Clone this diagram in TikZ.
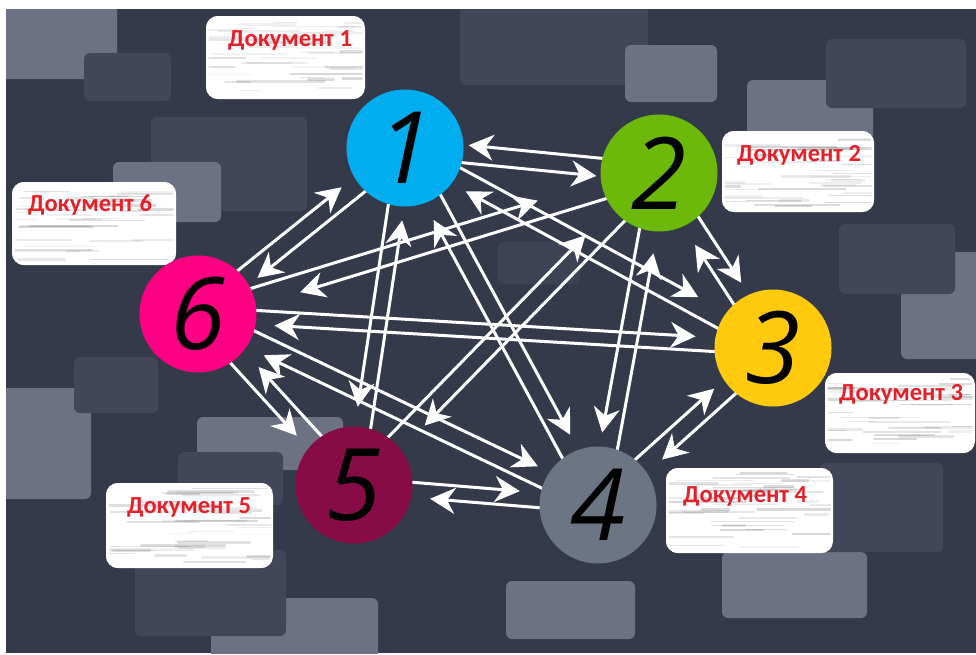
\documentclass[tikz,border=0pt]{standalone}
\usepackage{fontspec}
\newfontfamily\docfont{Carlito}
\newfontfamily\digfont{Open Sans}
\usetikzlibrary{calc,arrows.meta}
\definecolor{bgc}{HTML}{353A4B}
\definecolor{lightc}{HTML}{6C7183}
\definecolor{darkc}{HTML}{414658}
\definecolor{faintc}{HTML}{3D4254}
\definecolor{docred}{HTML}{E5202A}
\definecolor{c1}{HTML}{00AEEF}
\definecolor{c2}{HTML}{6CB909}
\definecolor{c3}{HTML}{FFC90E}
\definecolor{c4}{HTML}{6C7583}
\definecolor{c5}{HTML}{870B45}
\definecolor{c6}{HTML}{FF0083}
\pgfdeclarelayer{bglayer}
\pgfdeclarelayer{arrlayer}
\pgfsetlayers{bglayer,arrlayer,main}
\tikzset{
  arr/.style={draw=white, line width=3pt, -{Stealth[length=25pt,width=26pt,inset=8pt]}},
  num/.style={circle, minimum size=117pt, inner sep=0pt, text=black,
    font=\digfont\itshape\fontsize{100}{100}\selectfont},
  lightbox/.style={fill=lightc, rounded corners=6pt},
  darkbox/.style={fill=darkc, rounded corners=6pt},
  doctext/.style={font=\docfont\bfseries\fontsize{24.5}{24.5}\selectfont, text=docred,
    anchor=base west, inner sep=0pt},
}
\newcommand\bipair[5]{%
  \draw[arr, shorten >=#4pt] ($(#1)!#3pt!90:(#2)$) -- ($(#2)!#3pt!-90:(#1)$);
  \draw[arr, shorten >=#5pt] ($(#2)!#3pt!90:(#1)$) -- ($(#1)!#3pt!-90:(#2)$);
}
\newcommand\docbox[8]{%
  \begin{scope}
    \clip[rounded corners=12pt] (#2,#3) rectangle (#4,#5);
    \fill[white] (#2,#3) rectangle (#4,#5);
    \foreach \k in {1,...,40}{
      \pgfmathsetmacro\sx{#2-20+rnd*(#4-#2)}
      \pgfmathsetmacro\sy{#3+5+rnd*(#5-#3-10)}
      \pgfmathsetmacro\sl{20+rnd*70}
      \pgfmathsetmacro\sw{0.8+rnd*2.2}
      \pgfmathsetmacro\so{0.06+rnd*0.2}
      \draw[black!60, line width=\sw pt, opacity=\so, line cap=round] (\sx,\sy) -- ++(\sl,0);
    }
    \draw[white, line width=5pt, rounded corners=12pt] (#2,#3) rectangle (#4,#5);
  \end{scope}
  \node[doctext] (#1) at (#6,#7) {#8};
}
\begin{document}
\begin{tikzpicture}[x=1pt,y=-1pt]
\useasboundingbox (0,0) rectangle (976,654);
\pgfmathsetseed{7}
\begin{pgfonlayer}{bglayer}
  \fill[white] (0,0) rectangle (976,654);
  \begin{scope}
    \clip (6,9) rectangle (976,653);
    \fill[bgc] (6,9) rectangle (976,653);
    % background rectangles
    \fill[darkbox] (151,117) rectangle (307,211);
    \fill[darkbox] (460,-10) rectangle (648,85);
    \fill[lightbox] (-10,-10) rectangle (117,79);
    \fill[lightbox] (113,162) rectangle (221,222);
    \fill[lightbox] (625,45) rectangle (717,102);
    \fill[lightbox] (747,80) rectangle (873,140);
    \fill[lightbox] (901,252) rectangle (990,359);
    \fill[lightbox] (-10,388) rectangle (91,499);
    \fill[lightbox] (197,417) rectangle (343,470);
    \fill[lightbox] (211,598) rectangle (378,670);
    \fill[lightbox] (506,581) rectangle (635,639);
    \fill[lightbox] (722,552) rectangle (867,618);
    \fill[darkbox] (84,53) rectangle (171,101);
    \fill[darkbox] (826,39) rectangle (966,108);
    \fill[faintc, rounded corners=6pt] (498,242) rectangle (580,284);
    \fill[darkbox] (839,224) rectangle (955,294);
    \fill[darkbox] (74,357) rectangle (158,413);
    \fill[darkbox] (178,452) rectangle (283,505);
    \fill[darkbox] (135,550) rectangle (286,636);
    \fill[darkbox] (820,463) rectangle (943,552);
    % documents
    \docbox{d1}{206}{16}{365}{99}{228}{46}{Документ 1}
    \docbox{d2}{722}{131}{874}{212}{737}{161}{Документ 2}
    \docbox{d6}{12}{182}{176}{265}{28}{211}{Документ 6}
    \docbox{d3}{825}{373}{975}{453}{839}{400}{Документ 3}
    \docbox{d4}{666}{468}{833}{553}{683}{502}{Документ 4}
    \docbox{d5}{106}{483}{273}{568}{127}{513}{Документ 5}
  \end{scope}
\end{pgfonlayer}
% circles
\node[num, fill=c1] (n1) at (405,148) {1};
\node[num, fill=c2] (n2) at (659,173) {2};
\node[num, fill=c3] (n3) at (773,348) {3};
\node[num, fill=c4] (n4) at (598,505) {4};
\node[num, fill=c5] (n5) at (354,485) {5};
\node[num, fill=c6] (n6) at (198,314) {6};
% connectors
\begin{pgfonlayer}{arrlayer}
  \bipair{n1}{n2}{-9}{62}{63}
  \bipair{n2}{n3}{9}{72}{80}
  \bipair{n6}{n1}{9}{74}{69}
  \bipair{n6}{n3}{7}{78}{77}
  \bipair{n1}{n3}{9}{90}{74}
  \bipair{n1}{n4}{9}{75}{77}
  \bipair{n1}{n5}{-8}{78}{72}
  \bipair{n2}{n4}{-9}{72}{80}
  \bipair{n2}{n5}{9}{92}{96}
  \bipair{n6}{n2}{9}{124}{104}
  \bipair{n4}{n3}{9}{71}{78}
  \bipair{n6}{n5}{-9}{75}{80}
  \bipair{n6}{n4}{9}{71}{77}
  \bipair{n5}{n4}{7.5}{79}{77}
\end{pgfonlayer}
\end{tikzpicture}
\end{document}
